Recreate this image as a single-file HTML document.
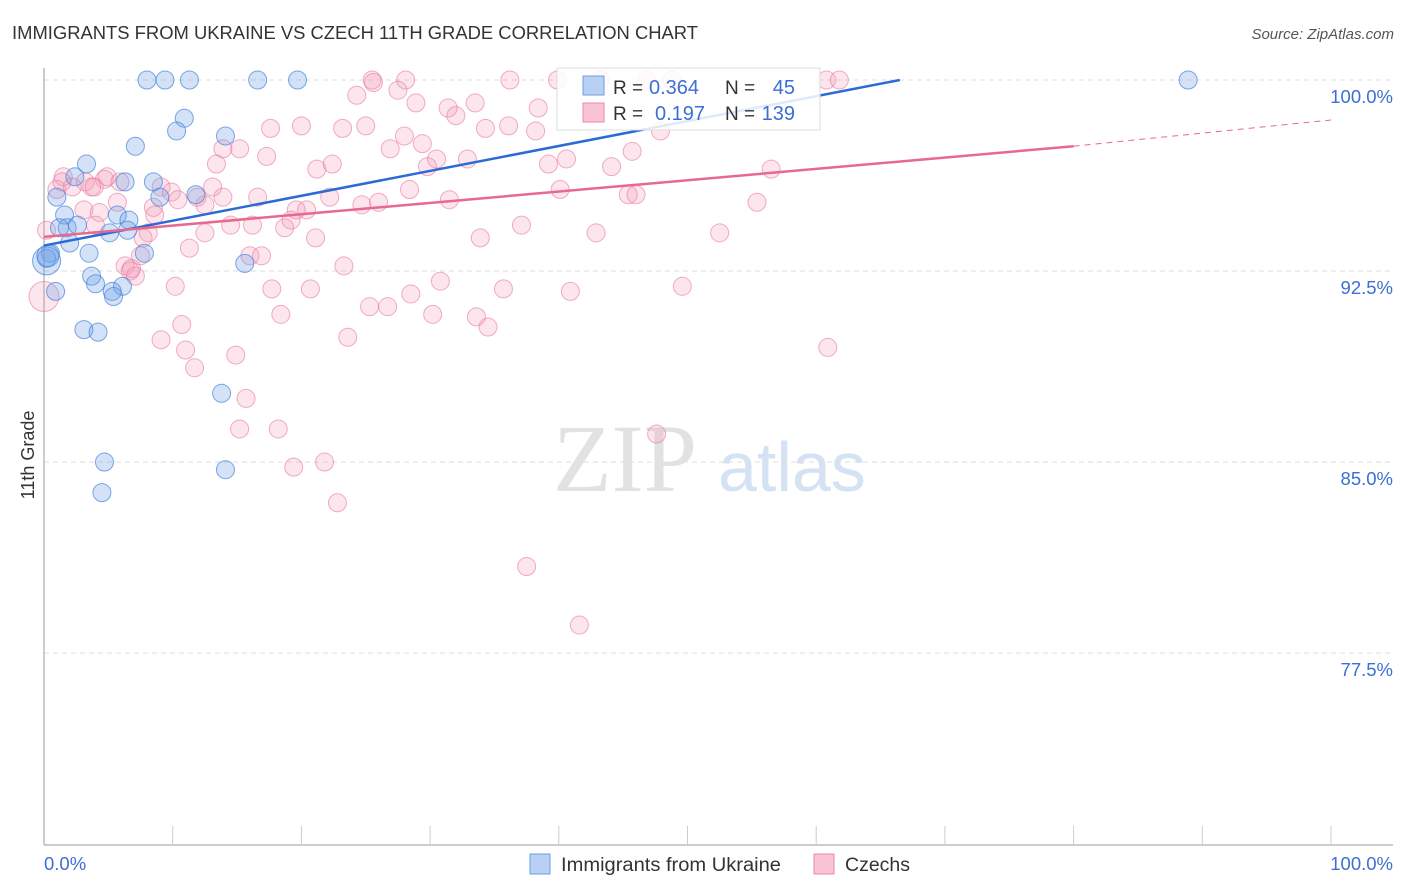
<!DOCTYPE html>
<html><head><meta charset="utf-8"><style>
html,body{margin:0;padding:0;background:#fff;}
svg{display:block;font-family:"Liberation Sans",sans-serif;}
</style></head><body>
<svg id="chart" width="1406" height="892" viewBox="0 0 1406 892" xmlns="http://www.w3.org/2000/svg">
<text x="12" y="39" font-size="18" fill="#333" textLength="686" lengthAdjust="spacingAndGlyphs">IMMIGRANTS FROM UKRAINE VS CZECH 11TH GRADE CORRELATION CHART</text>
<text x="1394" y="39" font-size="15" fill="#555" font-style="italic" text-anchor="end">Source: ZipAtlas.com</text>
<g>
<text x="553" y="491" font-family="Liberation Serif,serif" font-size="96" fill="#e2e2e2">ZIP</text>
<text x="718" y="491" font-size="70" fill="#d5e2f4">atlas</text>
</g>
<g id="grid"></g>
<g id="axes"></g>
<g id="pink"></g>
<g id="blue"></g>
<g id="lines"></g>
<text transform="translate(34,455) rotate(-90)" font-size="18" fill="#333" text-anchor="middle">11th Grade</text>
<g>
<rect x="557" y="68" width="263" height="62" fill="#fff" fill-opacity="0.85" stroke="#ddd"/>
<rect x="583" y="76" width="21" height="19" fill="#b8d0f4" stroke="#6f9be0"/>
<rect x="583" y="103" width="21" height="19" fill="#f9c4d4" stroke="#e88aa8"/>
<text x="613" y="94" font-size="19" fill="#333">R =</text>
<text x="649" y="94" font-size="20" fill="#3b6fd4">0.364</text>
<text x="725" y="94" font-size="19" fill="#333">N =</text>
<text x="795" y="94" font-size="20" fill="#3b6fd4" text-anchor="end">45</text>
<text x="613" y="120" font-size="19" fill="#333">R =</text>
<text x="655" y="120" font-size="20" fill="#3b6fd4">0.197</text>
<text x="725" y="120" font-size="19" fill="#333">N =</text>
<text x="795" y="120" font-size="20" fill="#3b6fd4" text-anchor="end">139</text>
</g>
<g>
<rect x="530" y="854" width="20" height="20" fill="#b8d0f4" stroke="#6f9be0"/>
<text x="561" y="871" font-size="19" fill="#333" textLength="220" lengthAdjust="spacingAndGlyphs">Immigrants from Ukraine</text>
<rect x="814" y="854" width="20" height="20" fill="#f9c4d4" stroke="#e88aa8"/>
<text x="845" y="871" font-size="19" fill="#333" textLength="65" lengthAdjust="spacingAndGlyphs">Czechs</text>
</g>
</svg>
<script>
const yTicks=[100,92.5,85,77.5];
const yTickLabels=["100.0%","92.5%","85.0%","77.5%"];
const xEndLabels=["0.0%","100.0%"];
const blueX=[8.0,9.4,11.3,16.6,19.7,88.9,10.9,10.3,14.1,7.1,3.3,8.5,6.3,2.4,1.0,9.0,11.8,1.6,5.7,6.6,6.5,5.1,1.8,2.6,1.2,2.0,7.8,3.5,0.5,0.2,15.6,3.7,4.0,6.1,5.3,5.4,0.9,3.1,4.2,13.8,4.7,14.1,4.5,0.2,0.3];
const blueY=[100,100,100,100,100,100,98.5,98.0,97.8,97.4,96.7,96.0,96.0,96.2,95.4,95.4,95.5,94.7,94.7,94.5,94.1,94.0,94.2,94.3,94.2,93.6,93.2,93.2,93.2,93.0,92.8,92.3,92.0,91.9,91.7,91.5,91.7,90.2,90.1,87.7,85.0,84.7,83.8,92.9,93.1];
const blueR=[9,9,9,9,9,9,9,9,9,9,9,9,9,9,9,9,9,9,9,9,9,9,9,9,9,9,9,9,9,9,9,9,9,9,9,9,9,9,9,9,9,9,9,14,11];
const pinkX=[25.5,28.1,36.2,39.9,43.2,46.8,48.8,60.8,61.8,24.3,27.5,28.9,25.6,31.4,33.5,32.0,38.4,17.6,20.0,23.2,25.0,28.0,26.9,29.4,34.3,36.1,38.2,47.9,15.2,13.9,17.3,13.4,21.2,22.4,29.8,30.5,32.9,39.2,40.6,44.1,45.7,56.5,1.5,3.2,4.7,4.9,5.9,3.7,1.0,2.2,3.9,9.1,9.9,13.1,10.4,12.5,11.9,13.9,16.6,22.2,24.7,26.0,28.4,31.5,40.1,45.4,46.0,55.4,3.1,4.3,5.7,8.5,8.6,4.0,8.1,7.7,12.5,16.2,14.5,18.7,19.2,20.4,19.6,21.1,33.9,37.1,42.9,52.5,11.3,16.0,16.9,6.3,6.7,7.1,6.8,7.5,23.3,10.2,17.7,20.7,28.5,30.8,35.7,40.9,49.6,18.4,25.3,26.7,30.2,33.6,34.5,10.7,9.1,23.6,11.0,14.9,60.9,11.7,15.7,15.2,18.2,47.6,19.4,21.8,22.8,37.5,41.6,0,0.2,1.4];
const pinkY=[100,100,100,100,100,100,100,100,100,99.4,99.6,99.1,99.9,98.9,99.1,98.6,98.9,98.1,98.2,98.1,98.2,97.8,97.3,97.5,98.1,98.2,98.0,98.0,97.3,97.3,97.0,96.7,96.5,96.7,96.6,96.9,96.9,96.7,96.9,96.6,97.2,96.5,96.2,96.0,96.1,96.2,96.0,95.8,95.7,95.8,95.8,95.8,95.6,95.8,95.3,95.1,95.4,95.4,95.4,95.4,95.1,95.2,95.7,95.3,95.7,95.5,95.5,95.2,94.9,94.8,95.2,95.0,94.7,94.3,94.0,93.8,94.0,94.3,94.3,94.2,94.5,94.9,94.9,93.8,93.8,94.3,94.0,94.0,93.4,93.1,93.1,92.7,92.5,92.3,92.6,93.1,92.7,91.9,91.8,91.8,91.6,92.1,91.8,91.7,91.9,90.8,91.1,91.1,90.8,90.7,90.3,90.4,89.8,89.9,89.4,89.2,89.5,88.7,87.5,86.3,86.3,86.1,84.8,85.0,83.4,80.9,78.6,91.5,94.1,96.0];
const blueTrend=[0,93.5,66.5,100];
const pinkTrend=[0,93.84,80,97.4,100,98.43];

const NS="http://www.w3.org/2000/svg";
const X0=44,X1=1331,YTOP=80,PXPER=25.47;
function sx(v){return X0+(X1-X0)*v/100;}
function sy(v){return YTOP+(100-v)*PXPER;}
function mk(tag,attrs,parent){const e=document.createElementNS(NS,tag);for(const k in attrs)e.setAttribute(k,attrs[k]);parent.appendChild(e);return e;}
const grid=document.getElementById('grid'),axes=document.getElementById('axes');
yTicks.forEach((t,i)=>{
 const l=mk('line',{x1:X0,x2:1393,y1:sy(t),y2:sy(t),stroke:'#ddd','stroke-dasharray':'5,4'},grid);
 
 
 const tx=mk('text',{x:1393,y:sy(t)+23,'text-anchor':'end','font-size':18.5,fill:'#3b6fd4'},axes);
 tx.textContent=yTickLabels[i];
 
 
});
const yl=mk('line',{x1:X0,x2:X0,y1:68,y2:845,stroke:'#bbb','stroke-width':1.5},axes);


const xl=mk('line',{x1:X0,x2:1393,y1:845,y2:845,stroke:'#bbb','stroke-width':1.5},axes);


for(let i=1;i<=10;i++){
 const t=mk('line',{x1:sx(i*10),x2:sx(i*10),y1:826,y2:845,stroke:'#ccc'},axes);
 
 
}
[[X0,'start'],[1393,'end']].forEach((p,i)=>{
 const t=mk('text',{x:p[0],y:870,'text-anchor':p[1],'font-size':18.5,fill:'#3b6fd4'},axes);
 t.textContent=xEndLabels[i];
 
 
});
const pg=document.getElementById('pink');
pinkX.forEach((v,i)=>{
 const c=mk('circle',{cx:sx(v),cy:sy(pinkY[i]),r:(i===pinkX.length-3?15:9),fill:'rgba(244,150,180,0.25)',stroke:'rgba(232,120,160,0.6)','stroke-width':1},pg);
 
 
});
const bg=document.getElementById('blue');
blueX.forEach((v,i)=>{
 const c=mk('circle',{cx:sx(v),cy:sy(blueY[i]),r:blueR[i],fill:'rgba(110,160,230,0.3)',stroke:'rgba(70,130,220,0.7)','stroke-width':1},bg);
 
 
});
const lg=document.getElementById('lines');
const bl=mk('line',{x1:sx(blueTrend[0]),y1:sy(blueTrend[1]),x2:sx(blueTrend[2]),y2:sy(blueTrend[3]),stroke:'#2a6bd6','stroke-width':2.5},lg);


const pl=mk('line',{x1:sx(pinkTrend[0]),y1:sy(pinkTrend[1]),x2:sx(pinkTrend[2]),y2:sy(pinkTrend[3]),stroke:'#e8688f','stroke-width':2.5},lg);


const pd=mk('line',{x1:sx(pinkTrend[2]),y1:sy(pinkTrend[3]),x2:sx(pinkTrend[4]),y2:sy(pinkTrend[5]),stroke:'#e8688f','stroke-width':1,'stroke-dasharray':'6,5'},lg);


</script>
</body></html>
